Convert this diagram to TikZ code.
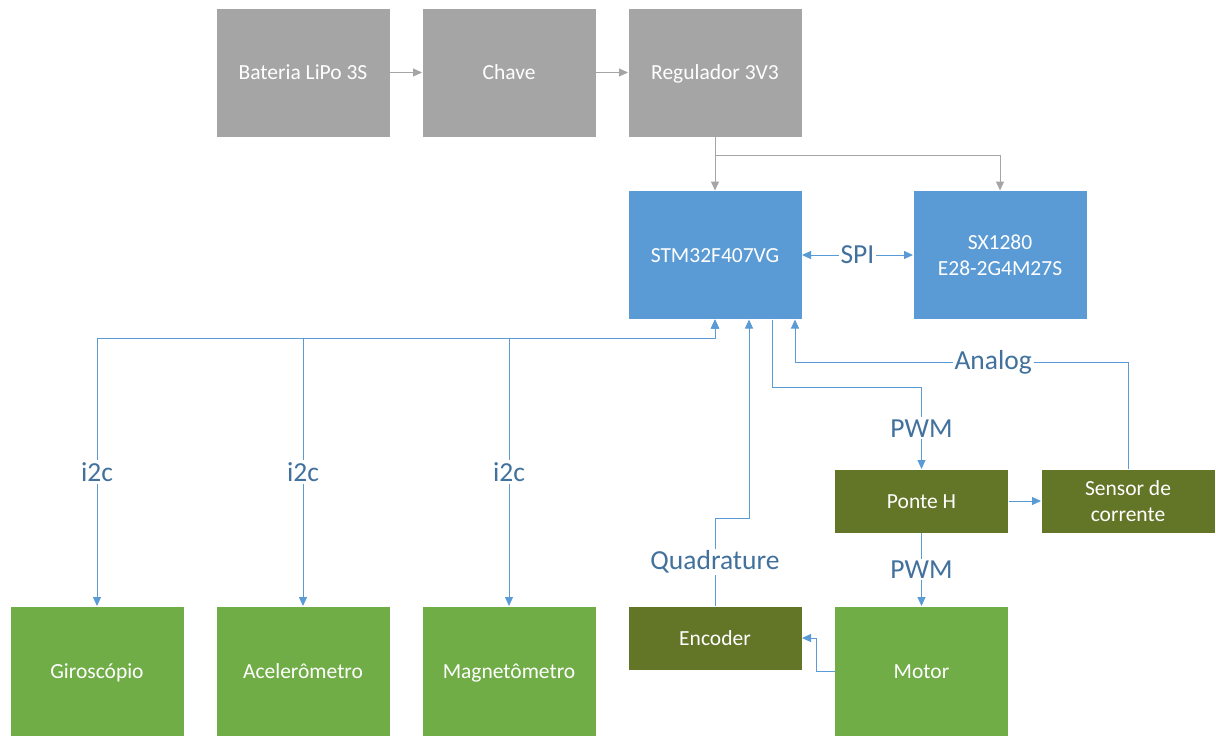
\documentclass[tikz,border=0pt]{standalone}
\usepackage{fontspec}
\setmainfont{Carlito}
\usetikzlibrary{arrows.meta}
\definecolor{cgray}{HTML}{A5A5A5}
\definecolor{cblue}{HTML}{5B9BD5}
\definecolor{colive}{HTML}{637527}
\definecolor{cgreen}{HTML}{70AD47}
\definecolor{clabel}{HTML}{41719C}
\tikzset{
  box/.style={draw=white, line width=0.8pt, text=white, minimum width=174pt, inner sep=0pt, outer sep=0pt, align=center, font=\fontsize{21.5}{26}\selectfont},
  one/.style={text height=17pt, text depth=3pt},
  tallbox/.style={box, minimum height=129pt},
  shortbox/.style={box, minimum height=64pt},
  pline/.style={draw=cgray, line width=1pt, -{Triangle[length=9pt,width=8pt]}},
  sline/.style={draw=cblue, line width=1pt, -{Triangle[length=9pt,width=8pt]}},
  both/.style={{Triangle[length=9pt,width=8pt]}-{Triangle[length=9pt,width=8pt]}},
  lbl/.style={fill=white, text=clabel, inner sep=2pt, font=\fontsize{27.5}{32}\selectfont}
}
\begin{document}
\begin{tikzpicture}[x=1pt,y=-1pt]
\useasboundingbox (0,0) rectangle (1216,736);
% power
\node[tallbox, one, fill=cgray] (bat) at (303,72.5) {Bateria LiPo 3S};
\node[tallbox, one, fill=cgray] (chave) at (509,72.5) {Chave};
\node[tallbox, one, fill=cgray] (reg) at (715,72.5) {Regulador 3V3};
% mcu, radio
\node[tallbox, one, fill=cblue] (stm) at (715,255) {STM32F407VG};
\node[tallbox, fill=cblue] (sx) at (1000,255) {SX1280\\E28-2G4M27S};
% sensors
\node[tallbox, one, minimum height=130pt, fill=cgreen] (giro) at (97,671) {Giroscópio};
\node[tallbox, one, minimum height=130pt, fill=cgreen] (acel) at (303,671) {Acelerômetro};
\node[tallbox, one, minimum height=130pt, fill=cgreen] (mag) at (509,671) {Magnetômetro};
% motor chain
\node[shortbox, one, fill=colive] (enc) at (715,638) {Encoder};
\node[tallbox, one, minimum height=130pt, fill=cgreen] (motor) at (921.5,671) {Motor};
\node[shortbox, one, fill=colive] (ponte) at (921.5,501) {Ponte H};
\node[shortbox, fill=colive] (sensor) at (1128,501) {Sensor de\\corrente};
% power lines
\draw[pline] (bat.east) -- (chave.west);
\draw[pline] (chave.east) -- (reg.west);
\draw[pline] (reg.south) -- (stm.north);
\draw[pline] (reg.south) -- ++(0,18) -| (sx.north);
% SPI
\draw[sline, both] (stm.east) -- node[lbl]{SPI} (sx.west);
% i2c bus
\coordinate (bus) at (0,338);
\draw[sline, both] (giro.north) -- node[lbl]{i2c} (giro.north |- bus) -| (stm.south);
\draw[sline, both] (acel.north) -- node[lbl]{i2c} (acel.north |- bus) -| (stm.south);
\draw[sline, both] (mag.north) -- node[lbl]{i2c} (mag.north |- bus) -| (stm.south);
% quadrature
\draw[sline] (enc.north) -- node[lbl]{Quadrature} ++(0,-88) -| ([xshift=34pt]stm.south);
% PWM to bridge
\draw[sline] ([xshift=57pt]stm.south) -- ++(0,68) -| node[lbl,pos=0.75]{PWM} (ponte.north);
% analog
\draw[sline] (sensor.north) -- (sensor.north |- 0,362) -- node[lbl,pos=0.405]{Analog} ([xshift=80pt]stm.south |- 0,362) -- ([xshift=80pt]stm.south);
% bridge to sensor and motor
\draw[sline] (ponte.east) -- (sensor.west);
\draw[sline] (ponte.south) -- node[lbl]{PWM} (motor.north);
% motor to encoder
\draw[sline] (motor.west) -- ++(-18,0) |- (enc.east);
\end{tikzpicture}
\end{document}
